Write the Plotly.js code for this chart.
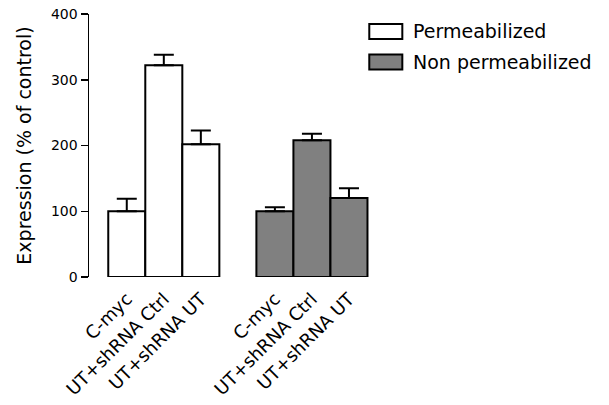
<!DOCTYPE html>
<html>
<head>
<meta charset="utf-8">
<script src="https://cdn.plot.ly/plotly-3.0.1.min.js"></script>
<style>html,body{margin:0;padding:0;background:#fff;}#chart{width:609px;height:405px;}</style>
</head>
<body>
<div id="chart"></div>
<script>
// ---- data ----
const categories = ['C-myc', 'UT+shRNA Ctrl', 'UT+shRNA UT'];
const seriesNames = ['Permeabilized', 'Non permeabilized'];
const permValues = [100, 322, 202];
const permErrors = [19, 16, 21];
const nonPermValues = [100, 208, 120];
const nonPermErrors = [6, 10, 15];
const yTickValues = [0, 100, 200, 300, 400];

// ---- layout helpers ----
const W = 609, H = 405;
const mL = 89, mR = 223.3, mT = 14, mB = 127.7;
const plotW = W - mL - mR, plotH = H - mT - mB;
const px = v => (v - mL) / plotW;          // pixel -> paper x
const py = v => (H - mB - v) / plotH;      // pixel -> paper y
const groupGap = 4;
const xPos = g => categories.map((c, i) => i + g * groupGap);

const font = 'DejaVu Sans, Verdana, sans-serif';
const colors = ['#ffffff', '#808080'];

function barTrace(g, vals, errs) {
  return {
    type: 'bar',
    x: xPos(g),
    y: vals,
    width: 1,
    name: seriesNames[g],
    showlegend: false,
    marker: {color: colors[g], line: {color: '#000', width: 2}},
    error_y: {type: 'data', symmetric: false, array: errs,
              arrayminus: errs.map(() => 0), color: '#000', thickness: 2, width: 10},
    hoverinfo: 'skip'
  };
}

const data = [barTrace(0, permValues, permErrors), barTrace(1, nonPermValues, nonPermErrors)];

const tickvals = [...xPos(0), ...xPos(1)];
const ticktext = [...categories, ...categories];

const shapes = [], annotations = [];
const legRows = [{y0: 24, y1: 39, cy: 31.5}, {y0: 54.5, y1: 69.5, cy: 62}];
legRows.forEach((r, g) => {
  shapes.push({type: 'rect', xref: 'paper', yref: 'paper',
    x0: px(369), x1: px(402), y0: py(r.y1), y1: py(r.y0),
    fillcolor: colors[g], line: {color: '#000', width: 2}});
  annotations.push({xref: 'paper', yref: 'paper', x: px(411), y: py(r.cy),
    xanchor: 'left', yanchor: 'middle', showarrow: false,
    text: seriesNames[g], font: {family: font, size: 19, color: '#000'}});
});

const layout = {
  width: W, height: H,
  margin: {l: mL, r: mR, t: mT, b: mB, pad: 0},
  paper_bgcolor: '#fff', plot_bgcolor: '#fff',
  bargap: 0,
  showlegend: false,
  font: {family: font, color: '#000'},
  xaxis: {
    range: [-1.02, 7], showline: false, zeroline: false, showgrid: false,
    ticks: '', tickmode: 'array', tickvals: tickvals, ticktext: ticktext,
    tickangle: -45, ticklabelstandoff: 7,
    tickfont: {family: font, size: 18, color: '#000'},
    automargin: false, fixedrange: true
  },
  yaxis: {
    range: [0, 400], showline: true, linecolor: '#000', linewidth: 1.5,
    zeroline: false, showgrid: false,
    ticks: 'outside', ticklen: 7, tickwidth: 1.5, tickcolor: '#000',
    tickmode: 'array', tickvals: yTickValues,
    tickfont: {family: font, size: 14, color: '#000'},
    title: {text: 'Expression (% of control)', font: {family: font, size: 19, color: '#000'}, standoff: 14},
    automargin: false, fixedrange: true
  },
  shapes: shapes,
  annotations: annotations
};

Plotly.newPlot('chart', data, layout, {staticPlot: true, displayModeBar: false});
</script>
</body>
</html>
